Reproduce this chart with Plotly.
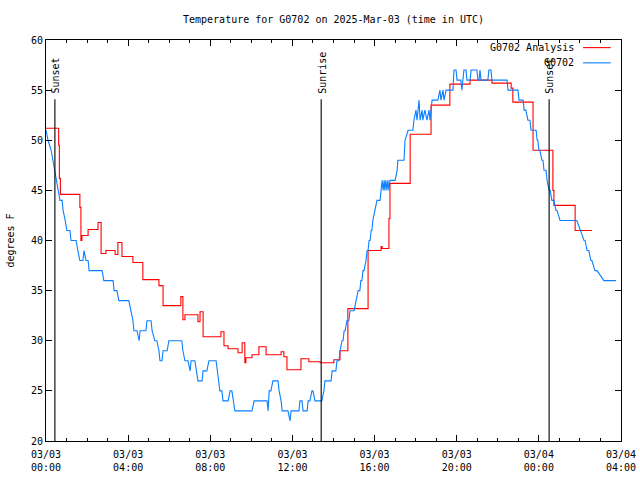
import pandas as pd
import plotly.graph_objects as go

BASE = pd.Timestamp("2025-03-03 00:00")

# Observed G0702 (minutes after 2025-03-03 00:00 UTC, deg F)
obs_min = [0, 6, 15, 20, 26, 32, 35, 41, 47, 50, 56, 61, 70, 73, 88, 91, 93, 99, 108, 111, 117, 123, 126,
           164, 169, 196, 199, 207, 213, 242, 248, 254, 257, 266, 272, 275, 292, 295, 307, 310, 318, 324,
           330, 333, 339, 342, 354, 359, 397, 400, 406, 415, 421, 424, 435, 444, 456, 459, 470, 476, 497,
           503, 508, 514, 517, 532, 538, 543, 552, 602, 608, 646, 649, 652, 657, 663, 678, 681, 687, 690,
           707, 713, 716, 739, 742, 748, 751, 763, 766, 771, 777, 780, 786, 806, 812, 815, 833, 836, 847,
           850, 856, 859, 865, 868, 871, 874, 879, 885, 888, 900, 906, 912, 917, 920, 923, 926, 929, 935,
           938, 941, 944, 947, 950, 952, 955, 961, 967, 976, 979, 982, 985, 988, 990, 993, 996, 999, 1002,
           1005, 1020, 1026, 1028, 1034, 1046, 1049, 1058, 1072, 1075, 1081, 1084, 1090, 1093, 1099, 1101,
           1107, 1113, 1119, 1122, 1128, 1145, 1151, 1154, 1160, 1163, 1169, 1189, 1192, 1198, 1201, 1212,
           1215, 1218, 1221, 1227, 1230, 1239, 1242, 1259, 1262, 1265, 1268, 1271, 1291, 1294, 1300, 1303,
           1347, 1350, 1379, 1382, 1394, 1397, 1402, 1408, 1414, 1417, 1432, 1435, 1437, 1440, 1443, 1449,
           1452, 1455, 1461, 1464, 1470, 1473, 1478, 1484, 1490, 1493, 1502, 1551, 1554, 1563, 1572, 1575,
           1581, 1586, 1592, 1595, 1604, 1610, 1630, 1665]
obs_temp = [51, 50, 49, 48, 47, 46, 45, 44, 44, 43, 42, 41, 41, 40, 40, 39, 39, 38, 38, 39, 38, 38, 37,
            37, 36, 36, 35, 35, 34, 34, 33, 32, 31, 31, 30, 31, 31, 32, 32, 31, 30, 30,
            29, 28, 28, 29, 29, 30, 30, 29, 28, 28, 27, 28, 28, 26, 26, 27, 27, 28, 28,
            26, 25, 25, 24, 24, 25, 25, 23, 23, 24, 24, 23, 25, 25, 26, 26, 25, 24, 23,
            23, 22, 23, 23, 24, 24, 23, 23, 24, 24, 25, 25, 24, 24, 25, 26, 26, 27, 27,
            28, 28, 29, 30, 30, 31, 31, 32, 32, 33, 33, 34, 35, 35, 36, 36, 37, 37, 38,
            39, 39, 40, 40, 41, 41, 42, 43, 44, 44, 45, 46, 45, 46, 45, 46, 45, 46, 45,
            46, 46, 47, 48, 48, 48, 50, 51, 51, 52, 53, 52, 54, 52, 53, 52,
            53, 52, 53, 52, 54, 54, 55, 54, 55, 54, 55, 55, 57, 57, 56, 56,
            55, 56, 57, 57, 56, 56, 57, 57, 56, 56, 57, 56, 56, 57, 57, 56,
            56, 55, 55, 54, 54, 53, 53, 52, 52, 51, 51, 50, 50, 49, 49, 48,
            48, 47, 47, 46, 45, 45, 44, 44, 43, 43, 42, 42, 41.7, 41, 40, 40,
            39, 39, 38, 38, 37, 37, 36, 36]

# G0702 Analysis (step series)
ana_min = [0, 37, 39, 42, 99, 102, 105, 123, 152, 161, 175, 202, 210, 222, 254, 283, 330, 342, 394, 400,
           406, 444, 450, 459, 511, 520, 532, 561, 573, 581, 584, 602, 622, 643, 687, 695, 704, 745, 768,
           801, 841, 859, 882, 941, 979, 982, 1002, 1005, 1064, 1125, 1180, 1239, 1303, 1359, 1364, 1423,
           1481, 1484, 1546, 1595]
ana_temp = [51.2, 49.5, 46.2, 44.6, 43.3, 40.0, 40.5, 41.1, 41.8, 38.7, 39.0, 38.6, 39.8, 38.4, 37.8, 36.1,
            35.5, 33.5, 34.4, 32.1, 32.6, 31.9, 32.9, 30.4, 30.9, 29.5, 29.2, 28.8, 29.8, 27.8, 28.3, 28.6,
            29.4, 28.6, 28.9, 28.4, 27.1, 28.2, 27.9, 27.8, 28.1, 29.0, 33.2, 39.0, 39.4, 39.2, 42.2, 45.7,
            50.6, 53.5, 55.6, 56.0, 55.7, 55.2, 53.8, 49.0, 45.0, 43.5, 41.0, 41.0]

# Sun events (minutes after base)
sun_min = [26, 804, 1470]
sun_labels = ["Sunset", "Sunrise", "Sunset"]

tick_hours = [0, 4, 8, 12, 16, 20, 24, 28]
tick_text = ["03/03<br>00:00", "03/03<br>04:00", "03/03<br>08:00", "03/03<br>12:00",
             "03/03<br>16:00", "03/03<br>20:00", "03/04<br>00:00", "03/04<br>04:00"]

FONT = "DejaVu Sans Mono"
RED = "#ff0000"
BLUE = "#0a7fff"
LW = 1.1

def t(m):
    return BASE + pd.to_timedelta(m, unit="m")

fig = go.Figure()
fig.add_trace(go.Scatter(x=[t(m) for m in ana_min], y=ana_temp, mode="lines",
                         line=dict(color=RED, width=LW, shape="hv"),
                         name="G0702 Analysis", showlegend=False))
fig.add_trace(go.Scatter(x=[t(m) for m in obs_min], y=obs_temp, mode="lines",
                         line=dict(color=BLUE, width=LW),
                         name="G0702", showlegend=False))

# sunrise / sunset markers
for m, lab in zip(sun_min, sun_labels):
    fig.add_trace(go.Scatter(x=[t(m), t(m)], y=[20, 54.1], mode="lines",
                             line=dict(color="black", width=LW), showlegend=False,
                             hoverinfo="skip"))
    fig.add_annotation(x=t(m), y=54.45, xref="x", yref="y", text=lab, textangle=-90,
                       showarrow=False, xanchor="center", yanchor="bottom", xshift=1,
                       font=dict(family=FONT, size=10, color="black"))

# manual gnuplot-style legend (text right, sample line after)
leg_items = [("G0702 Analysis", RED, 0.981), ("G0702", BLUE, 0.943)]
for txt, col, yp in leg_items:
    fig.add_annotation(x=0.922, y=yp, xref="paper", yref="paper", text=txt, showarrow=False,
                       xanchor="right", yanchor="middle",
                       font=dict(family=FONT, size=10, color="black"))
    fig.add_shape(type="line", xref="paper", yref="paper", x0=0.934, x1=0.982, y0=yp, y1=yp,
                  line=dict(color=col, width=LW))

fig.update_layout(
    width=640, height=480,
    margin=dict(l=46, r=19, t=40, b=39, autoexpand=False),
    paper_bgcolor="white", plot_bgcolor="white",
    font=dict(family=FONT, size=10, color="black"),
    title=dict(text="Temperature for G0702 on 2025-Mar-03 (time in UTC)", x=0.5, xref="paper",
               xanchor="center", y=1 - 19 / 480, yref="container", yanchor="middle",
               font=dict(family=FONT, size=10)),
    showlegend=False,
)
fig.update_xaxes(
    range=[t(0), t(28 * 60)], showgrid=False, zeroline=False, automargin=False,
    showline=True, linecolor="black", linewidth=1, mirror="allticks",
    ticks="inside", ticklen=6, tickcolor="black",
    tickmode="array", tickvals=[t(h * 60) for h in tick_hours], ticktext=tick_text,
    minor=dict(ticks="inside", ticklen=3, tickcolor="black", dtick=3600000, showgrid=False),
    tickfont=dict(family=FONT, size=10), ticklabelstandoff=4,
)
fig.update_yaxes(
    range=[20, 60], showgrid=False, zeroline=False, automargin=False,
    showline=True, linecolor="black", linewidth=1, mirror="allticks",
    ticks="inside", ticklen=6, tickcolor="black", dtick=5, tick0=20,
    title=dict(text="degrees F", font=dict(family=FONT, size=10), standoff=14),
    tickfont=dict(family=FONT, size=10),
)

fig.write_html("out.html", config={"displayModeBar": False},
               post_script="document.body.style.margin='0';")
